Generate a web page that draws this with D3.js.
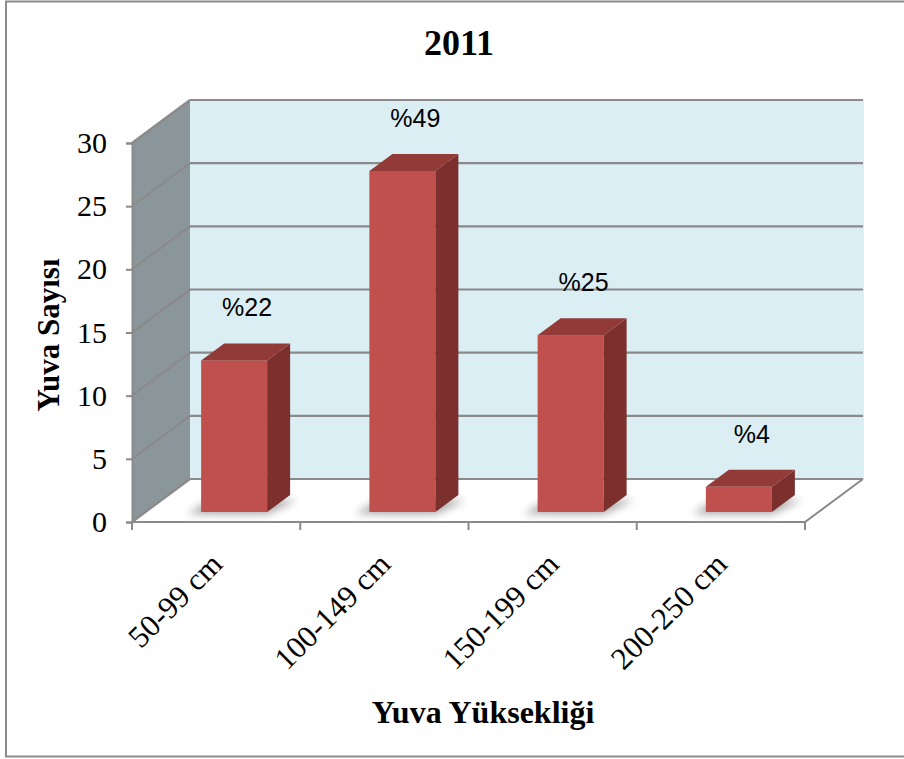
<!DOCTYPE html>
<html>
<head>
<meta charset="utf-8">
<script src="https://cdn.jsdelivr.net/npm/d3@7"></script>
<style>
  body { margin: 0; background: #fff; }
  svg { display: block; }
</style>
</head>
<body>
<svg width="904" height="759"></svg>
<script>
// chart data
const categories = ["50-99 cm", "100-149 cm", "150-199 cm", "200-250 cm"];
const counts = [12, 27, 14, 2];
const percentLabels = ["%22", "%49", "%25", "%4"];
const yTicks = [0, 5, 10, 15, 20, 25, 30];

const svg = d3.select("svg");
const serif = "'Liberation Serif', 'Times New Roman', serif";

// front plane of the 3d box
const plotLeft = 132, plotRight = 805, plotBottom = 522, plotTop = 143;
const depth = {dx: 58, dy: -43};

const x = d3.scaleBand().domain(categories).range([plotLeft, plotRight]);
const y = d3.scaleLinear().domain([0, 30]).range([plotBottom, plotTop]);

// outer frame
svg.append("rect")
  .attr("x", 6).attr("y", 1.5)
  .attr("width", 920).attr("height", 755)
  .attr("fill", "none")
  .attr("stroke", "#8c8c8c")
  .attr("stroke-width", 2);

const defs = svg.append("defs");
defs.append("filter").attr("id", "blur")
  .attr("x", "-50%").attr("y", "-50%").attr("width", "200%").attr("height", "200%")
  .append("feGaussianBlur").attr("stdDeviation", 4);

// back wall
svg.append("rect")
  .attr("x", plotLeft + depth.dx).attr("y", y(30) + depth.dy)
  .attr("width", plotRight - plotLeft + 1)
  .attr("height", y(0) - y(30))
  .attr("fill", "#dbeef4");

// side wall
svg.append("polygon")
  .attr("points", [
    [plotLeft, y(0)], [plotLeft, y(30)],
    [plotLeft + depth.dx, y(30) + depth.dy], [plotLeft + depth.dx, y(0) + depth.dy]
  ].join(" "))
  .attr("fill", "#8b969a");

// floor
svg.append("polygon")
  .attr("points", [
    [plotLeft, plotBottom], [plotLeft + depth.dx, plotBottom + depth.dy],
    [plotRight + depth.dx, plotBottom + depth.dy], [plotRight, plotBottom]
  ].join(" "))
  .attr("fill", "#fff");

// gridlines on the back wall and side wall
const grid = svg.append("g").attr("stroke", "#8a8a8a").attr("stroke-width", 2.2);
grid.selectAll(".hline").data(yTicks).enter().append("line")
  .attr("x1", plotLeft + depth.dx).attr("x2", plotRight + depth.dx)
  .attr("y1", d => y(d) + depth.dy).attr("y2", d => y(d) + depth.dy);
grid.selectAll(".dline").data(yTicks).enter().append("line")
  .attr("x1", plotLeft).attr("x2", plotLeft + depth.dx)
  .attr("y1", d => y(d)).attr("y2", d => y(d) + depth.dy);

// floor edges
svg.append("polyline")
  .attr("points", [[plotLeft, plotBottom], [plotRight, plotBottom], [plotRight + depth.dx, plotBottom + depth.dy]].join(" "))
  .attr("fill", "none").attr("stroke", "#8a8a8a").attr("stroke-width", 2);

// y axis
const yAxis = svg.append("g")
  .attr("transform", `translate(${plotLeft},0)`)
  .call(d3.axisLeft(y).tickValues(yTicks).tickSize(6).tickPadding(19));
yAxis.select(".domain").attr("stroke", "#8a8a8a").attr("stroke-width", 2);
yAxis.selectAll(".tick line").attr("stroke", "#8a8a8a").attr("stroke-width", 2);
yAxis.selectAll("text")
  .attr("font-family", serif).attr("font-size", 30).attr("fill", "#000");

// x axis ticks (between categories)
const xAxis = svg.append("g")
  .attr("transform", `translate(0,${plotBottom})`)
  .call(d3.axisBottom(x).tickSize(0));
xAxis.select(".domain").remove();
const bounds = categories.map(c => x(c)).concat([plotRight]);
xAxis.selectAll(".bound").data(bounds).enter().append("line")
  .attr("x1", d => d).attr("x2", d => d)
  .attr("y1", 0).attr("y2", 8)
  .attr("stroke", "#8a8a8a").attr("stroke-width", 2);
xAxis.selectAll(".tick text")
  .attr("font-family", serif).attr("font-size", 31).attr("fill", "#000")
  .attr("text-anchor", "end")
  .attr("y", 0).attr("dy", 0)
  .attr("transform", "translate(8,44) rotate(-45)");

// bars
const barW = 66;
const barShift = {dx: 13, dy: -10};
const barDepth = {dx: 23, dy: -17};
const barX = d => x(d.cat) + x.bandwidth() / 2 + 18 - barW / 2;

const data = categories.map((c, i) => ({cat: c, v: counts[i], label: percentLabels[i]}));
const bars = svg.append("g").selectAll("g").data(data).enter().append("g");

bars.append("polygon")
  .attr("points", d => {
    const x0 = barX(d), yb = y(0) + barShift.dy;
    return [[x0 - 14, yb + 2], [x0 + barW, yb + 2], [x0 + barW + 30, yb - 12], [x0 + 10, yb - 12]].join(" ");
  })
  .attr("fill", "#000").attr("opacity", 0.35)
  .attr("filter", "url(#blur)");

bars.append("rect")
  .attr("x", barX)
  .attr("y", d => y(d.v) + barShift.dy)
  .attr("width", barW)
  .attr("height", d => y(0) - y(d.v))
  .attr("fill", "#c0504d");

bars.append("polygon")
  .attr("points", d => {
    const x0 = barX(d) + barW, yt = y(d.v) + barShift.dy, yb = y(0) + barShift.dy;
    return [[x0, yt], [x0 + barDepth.dx, yt + barDepth.dy], [x0 + barDepth.dx, yb + barDepth.dy], [x0, yb]].join(" ");
  })
  .attr("fill", "#7c302e");

bars.append("polygon")
  .attr("points", d => {
    const x0 = barX(d), yt = y(d.v) + barShift.dy;
    return [[x0, yt], [x0 + barW, yt], [x0 + barW + barDepth.dx, yt + barDepth.dy], [x0 + barDepth.dx, yt + barDepth.dy]].join(" ");
  })
  .attr("fill", "#923a38");

bars.append("text")
  .attr("x", d => barX(d) + barW / 2 + 13)
  .attr("y", d => y(d.v) + barShift.dy - 44)
  .attr("text-anchor", "middle")
  .attr("font-family", "'Liberation Sans', Arial, sans-serif")
  .attr("font-size", 25)
  .text(d => d.label);

// titles
svg.append("text")
  .attr("x", 459).attr("y", 55)
  .attr("text-anchor", "middle")
  .attr("font-family", serif).attr("font-weight", "bold").attr("font-size", 36)
  .text("2011");

svg.append("text")
  .attr("transform", "translate(59,335) rotate(-90)")
  .attr("text-anchor", "middle")
  .attr("font-family", serif).attr("font-weight", "bold").attr("font-size", 31)
  .text("Yuva Sayısı");

svg.append("text")
  .attr("x", 483).attr("y", 723)
  .attr("text-anchor", "middle")
  .attr("font-family", serif).attr("font-weight", "bold").attr("font-size", 32)
  .text("Yuva Yüksekliği");
</script>
</body>
</html>
